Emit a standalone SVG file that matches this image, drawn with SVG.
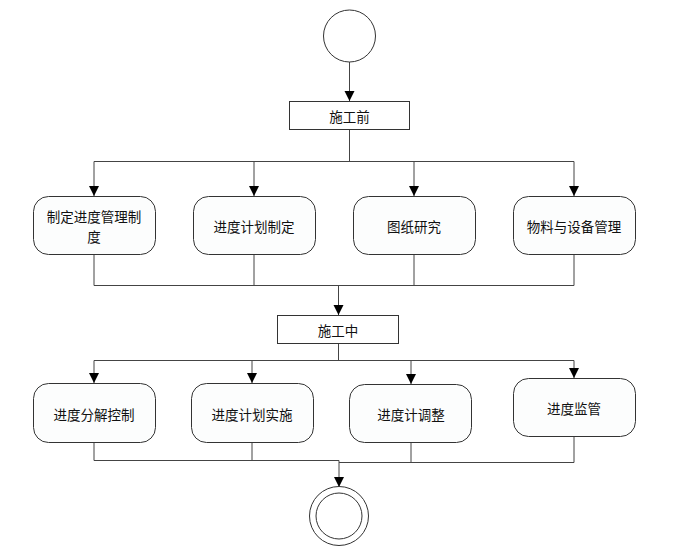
<svg xmlns="http://www.w3.org/2000/svg" width="676" height="559" viewBox="0 0 676 559">
<defs>
<marker id="arr" viewBox="0 0 10 10" refX="10" refY="5" markerWidth="10" markerHeight="11" markerUnits="userSpaceOnUse" orient="auto">
<path d="M0,0 L10,5 L0,10 z" fill="#000"/>
</marker>
<style>
.n{fill:#fcfdfd;stroke:#333;stroke-width:1}
.b{fill:#fff;stroke:#333;stroke-width:1}
.t{font-family:"Noto Sans CJK SC","Noto Sans",sans-serif;font-size:13.5px;fill:#111;text-anchor:middle;dominant-baseline:central}
.c{fill:none;stroke:#444;stroke-width:1}
.a{fill:none;stroke:#444;stroke-width:1;marker-end:url(#arr)}
</style>
</defs>
<rect width="676" height="559" fill="#fff"/>
<g id="connectors">
<line class="a" x1="349.5" y1="62" x2="349.5" y2="101"/>
<polyline class="c" points="349.5,130 349.5,161.5"/>
<polyline class="c" points="94,161.5 574,161.5"/>
<line class="a" x1="94" y1="161.5" x2="94" y2="196"/>
<line class="a" x1="254" y1="161.5" x2="254" y2="196"/>
<line class="a" x1="414" y1="161.5" x2="414" y2="196"/>
<line class="a" x1="574" y1="161.5" x2="574" y2="196"/>
<polyline class="c" points="94,254 94,285.5 574,285.5 574,254"/>
<line class="c" x1="254" y1="254" x2="254" y2="285.5"/>
<line class="c" x1="414" y1="254" x2="414" y2="285.5"/>
<line class="a" x1="338.5" y1="285.5" x2="338.5" y2="315"/>
<line class="c" x1="338.5" y1="344" x2="338.5" y2="360.5"/>
<line class="c" x1="94" y1="360.5" x2="574" y2="360.5"/>
<line class="a" x1="94" y1="360.5" x2="94" y2="383"/>
<line class="a" x1="252" y1="360.5" x2="252" y2="383"/>
<line class="a" x1="411" y1="360.5" x2="411" y2="384"/>
<line class="a" x1="574" y1="360.5" x2="574" y2="378"/>
<polyline class="c" points="94,443 94,460.5 339,460.5"/>
<line class="c" x1="252" y1="443" x2="252" y2="460.5"/>
<polyline class="c" points="574,437 574,462.5 339,462.5"/>
<line class="c" x1="411" y1="443" x2="411" y2="462.5"/>
<line class="a" x1="339" y1="460.5" x2="339" y2="487"/>
</g>
<g id="start"><circle class="b" cx="349.5" cy="36" r="26"/></g>
<g id="before"><rect class="b" x="289.5" y="101.5" width="120" height="28"/><text class="t" x="349.5" y="116">施工前</text></g>
<g id="n1"><rect class="n" x="33.5" y="196.5" width="122" height="58" rx="15"/><text class="t" x="94" y="215.5">制定进度管理制</text><text class="t" x="94" y="236">度</text></g>
<g id="n2"><rect class="n" x="193.5" y="196.5" width="122" height="58" rx="15"/><text class="t" x="254" y="226">进度计划制定</text></g>
<g id="n3"><rect class="n" x="353.5" y="196.5" width="122" height="58" rx="15"/><text class="t" x="414" y="226">图纸研究</text></g>
<g id="n4"><rect class="n" x="513.5" y="196.5" width="122" height="58" rx="15"/><text class="t" x="574" y="226">物料与设备管理</text></g>
<g id="during"><rect class="b" x="277.5" y="315.5" width="121" height="28"/><text class="t" x="338" y="330">施工中</text></g>
<g id="m1"><rect class="n" x="33.5" y="383.5" width="122" height="59" rx="15"/><text class="t" x="94" y="414">进度分解控制</text></g>
<g id="m2"><rect class="n" x="191.5" y="383.5" width="122" height="59" rx="15"/><text class="t" x="252" y="414">进度计划实施</text></g>
<g id="m3"><rect class="n" x="349.5" y="384.5" width="122" height="58" rx="15"/><text class="t" x="411" y="414">进度计调整</text></g>
<g id="m4"><rect class="n" x="513.5" y="378.5" width="122" height="58" rx="15"/><text class="t" x="574" y="408">进度监管</text></g>
<g id="end"><circle class="b" cx="339" cy="516" r="29.5"/><circle class="b" cx="339" cy="516" r="23"/></g>
</svg>
